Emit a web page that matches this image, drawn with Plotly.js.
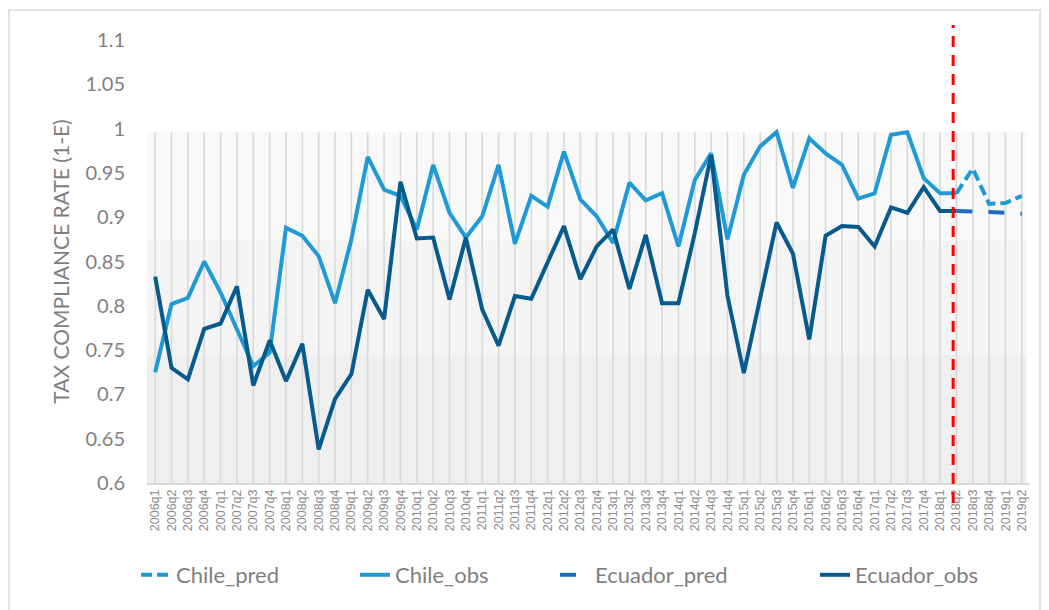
<!DOCTYPE html>
<html>
<head>
<meta charset="utf-8">
<script src="https://cdn.plot.ly/plotly-3.0.1.min.js"></script>
<style>
  html, body { margin: 0; padding: 0; background: #ffffff; }
  #chart { width: 1049px; height: 610px; }
</style>
</head>
<body>
<div id="chart"></div>
<script>
// ---- Data ----
var quarters = [
  "2006q1","2006q2","2006q3","2006q4","2007q1","2007q2","2007q3","2007q4",
  "2008q1","2008q2","2008q3","2008q4","2009q1","2009q2","2009q3","2009q4",
  "2010q1","2010q2","2010q3","2010q4","2011q1","2011q2","2011q3","2011q4",
  "2012q1","2012q2","2012q3","2012q4","2013q1","2013q2","2013q3","2013q4",
  "2014q1","2014q2","2014q3","2014q4","2015q1","2015q2","2015q3","2015q4",
  "2016q1","2016q2","2016q3","2016q4","2017q1","2017q2","2017q3","2017q4",
  "2018q1","2018q2","2018q3","2018q4","2019q1","2019q2"
];

// observed: 2006q1 .. 2018q2
var chileObs = [
  0.725, 0.802, 0.809, 0.850, 0.815, 0.773, 0.732, 0.747,
  0.888, 0.879, 0.856, 0.803, 0.875, 0.968, 0.931, 0.924,
  0.886, 0.959, 0.905, 0.877, 0.901, 0.959, 0.870, 0.924,
  0.912, 0.974, 0.920, 0.901, 0.871, 0.939, 0.919, 0.927,
  0.867, 0.942, 0.972, 0.875, 0.948, 0.980, 0.996, 0.933,
  0.989, 0.972, 0.959, 0.921, 0.927, 0.993, 0.996, 0.944,
  0.927, 0.927
];
var ecuadorObs = [
  0.833, 0.730, 0.717, 0.774, 0.780, 0.822, 0.710, 0.761,
  0.715, 0.757, 0.638, 0.695, 0.723, 0.818, 0.785, 0.940,
  0.876, 0.877, 0.807, 0.877, 0.796, 0.755, 0.811, 0.808,
  0.849, 0.890, 0.830, 0.867, 0.886, 0.819, 0.880, 0.803,
  0.803, 0.882, 0.970, 0.811, 0.724, 0.809, 0.894, 0.859,
  0.762, 0.879, 0.890, 0.889, 0.867, 0.911, 0.905, 0.934,
  0.907, 0.907
];
// predicted: 2018q2 .. 2019q2
var predQuarters = ["2018q2","2018q3","2018q4","2019q1","2019q2"];
var chilePred   = [0.927, 0.955, 0.915, 0.916, 0.924];
var ecuadorPred = [0.907, 0.907, 0.906, 0.905, 0.904];

// background bands (value boundaries) and the forecast split position
var bandEdges  = [0.600, 0.745, 0.873, 0.9956];
var bandColors = ["#efefef", "#f4f4f4", "#f9f9f9"];
var splitIndex = 48.8;

// ---- Traces ----
var obsQuarters = quarters.slice(0, chileObs.length);

var traces = [
  {
    name: "Chile_pred", x: predQuarters, y: chilePred, type: "scatter", mode: "lines",
    line: { color: "#1f9ad6", width: 4, dash: "11px,5px" }, legendwidth: 174
  },
  {
    name: "Chile_obs", x: obsQuarters, y: chileObs, type: "scatter", mode: "lines",
    line: { color: "#1f9ad6", width: 4 }, legendwidth: 155
  },
  {
    name: "Ecuador_pred", x: predQuarters, y: ecuadorPred, type: "scatter", mode: "lines",
    line: { color: "#1c6cc4", width: 4, dash: "16px,16px" }, legendwidth: 215
  },
  {
    name: "Ecuador_obs", x: obsQuarters, y: ecuadorObs, type: "scatter", mode: "lines",
    line: { color: "#065a8c", width: 4 }, legendwidth: 140
  }
];

// ---- Shapes ----
var shapes = [];
for (var b = 0; b < bandColors.length; b++) {
  shapes.push({
    type: "rect", layer: "below", xref: "x", yref: "y",
    x0: -0.5, x1: quarters.length - 0.7, y0: bandEdges[b], y1: bandEdges[b + 1],
    fillcolor: bandColors[b], line: { width: 0 }
  });
}
quarters.forEach(function (q) {
  shapes.push({
    type: "line", layer: "below", xref: "x", yref: "y",
    x0: q, x1: q, y0: bandEdges[0], y1: bandEdges[bandEdges.length - 1],
    line: { color: "#d9d9d9", width: 1.6 }
  });
});
// forecast split
shapes.push({
  type: "line", xref: "x", yref: "paper",
  x0: splitIndex, x1: splitIndex, y0: -0.045, y1: 1.034,
  line: { color: "#ff0000", width: 3, dash: "11px,8px" }
});
// outer frame
shapes.push({
  type: "rect", xref: "paper", yref: "paper",
  x0: -138 / 883, x1: 893 / 883, y0: -130 / 443, y1: 1 + 30 / 443,
  line: { color: "#d9d9d9", width: 1.5 }, fillcolor: "rgba(0,0,0,0)"
});

var layout = {
  width: 1049, height: 610,
  margin: { l: 147, r: 19, t: 40, b: 127 },
  paper_bgcolor: "#ffffff",
  plot_bgcolor: "#ffffff",
  font: { family: "Lato, 'Open Sans', sans-serif", color: "#7f7f7f" },
  showlegend: true,
  legend: {
    orientation: "h", xref: "container", yref: "container",
    x: 136 / 1049, y: 1 - 575 / 610, xanchor: "left", yanchor: "middle",
    font: { size: 22, color: "#7f7f7f", family: "Lato, sans-serif" },
    bgcolor: "rgba(0,0,0,0)", borderwidth: 0, tracegroupgap: 0
  },
  xaxis: {
    type: "category", categoryorder: "array", categoryarray: quarters,
    range: [-0.5, quarters.length - 0.5],
    tickangle: -90, showgrid: false, zeroline: false,
    showline: true, linecolor: "#d9d9d9", linewidth: 1.5,
    ticks: "", tickfont: { size: 12.5, color: "#8c8c8c", family: "'Liberation Sans', Arial, sans-serif" },
    fixedrange: true
  },
  yaxis: {
    range: [0.6, 1.1], dtick: 0.05, tick0: 0.6,
    showgrid: false, zeroline: false, showline: false, ticks: "",
    tickfont: { size: 20, color: "#7f7f7f", family: "Lato, sans-serif" },
    ticklabelstandoff: 21,
    title: { text: "TAX COMPLIANCE RATE (1-E)", font: { size: 21, color: "#7f7f7f", family: "Lato, sans-serif" }, standoff: 10 },
    fixedrange: true
  },
  shapes: shapes
};

Plotly.newPlot("chart", traces, layout, { displayModeBar: false, staticPlot: true });
</script>
</body>
</html>
